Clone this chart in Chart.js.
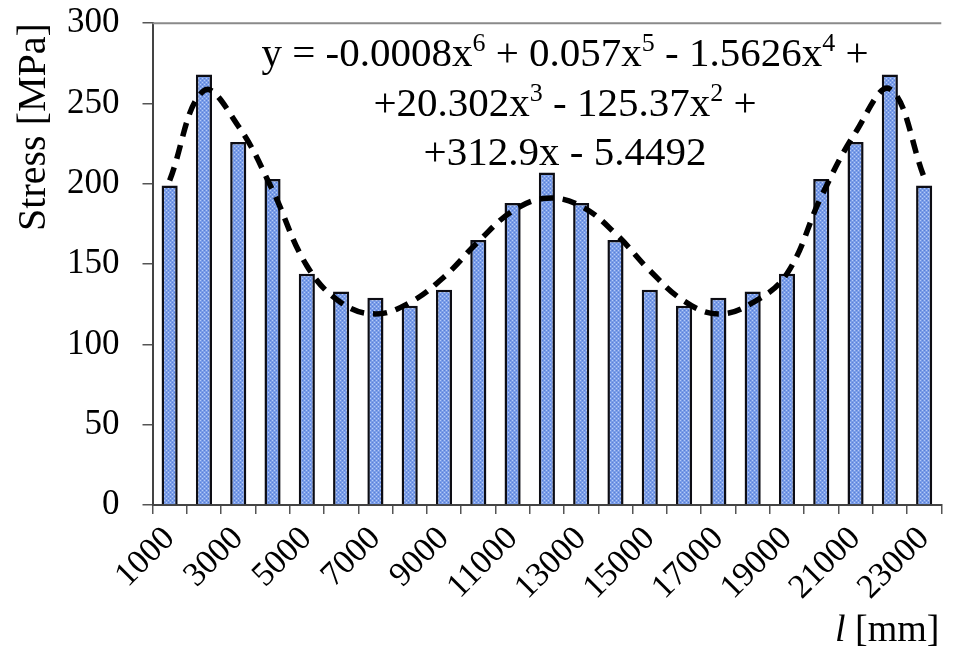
<!DOCTYPE html>
<html>
<head>
<meta charset="utf-8">
<script src="https://cdn.jsdelivr.net/npm/chart.js@4.4.1/dist/chart.umd.min.js"></script>
<style>
  html, body { margin: 0; padding: 0; background: #ffffff; overflow: hidden; }
  canvas { display: block; }
</style>
</head>
<body>
<canvas id="stressChart" width="958" height="651"></canvas>
<script>
// Span positions along the member, mm
const lengths = ['1000','2000','3000','4000','5000','6000','7000','8000','9000','10000','11000','12000',
                 '13000','14000','15000','16000','17000','18000','19000','20000','21000','22000','23000'];
// Stress at each position, MPa
const stress = [199, 268, 226, 203, 144, 133, 129, 124, 134, 165, 188, 207,
                188, 165, 134, 124, 129, 133, 144, 203, 226, 268, 199];
// Polynomial trend line values at each position, MPa
const trend = [202, 258, 236, 196, 149, 126, 119, 126, 142, 164, 183, 191,
               186, 169, 146, 127, 119, 126, 144, 192, 232, 259, 204];
// Stress axis ticks
const yTicks = [0, 50, 100, 150, 200, 250, 300];
// Trend equation, split into runs; sup marks an exponent
const equationLines = [
  [['y = -0.0008x', false], ['6', true], [' + 0.057x', false], ['5', true], [' - 1.5626x', false], ['4', true], [' +', false]],
  [['+20.302x', false], ['3', true], [' - 125.37x', false], ['2', true], [' +', false]],
  [['+312.9x - 5.4492', false]]
];

const SERIF = '"Liberation Serif", "Times New Roman", serif';

// Dotted blue fill for the bars
function makeBarPattern() {
  const c = document.createElement('canvas');
  c.width = 4; c.height = 4;
  const g = c.getContext('2d');
  g.fillStyle = '#7a9de8';
  g.fillRect(0, 0, 4, 4);
  g.fillStyle = '#b6cbf7';
  g.fillRect(0, 0, 1, 1); g.fillRect(2, 2, 1, 1);
  g.fillStyle = '#5a80d8';
  g.fillRect(2, 0, 1, 1); g.fillRect(0, 2, 1, 1);
  return g.createPattern(c, 'repeat');
}

const decorations = {
  id: 'decorations',
  beforeDraw(chart) {
    const ctx = chart.ctx;
    ctx.save();
    ctx.fillStyle = '#ffffff';
    ctx.fillRect(0, 0, chart.width, chart.height);
    ctx.restore();
  },
  afterDraw(chart) {
    const ctx = chart.ctx;
    const area = chart.chartArea;
    ctx.save();
    // top frame line
    ctx.strokeStyle = '#8a8a8a';
    ctx.lineWidth = 2;
    ctx.beginPath();
    ctx.moveTo(area.left, area.top);
    ctx.lineTo(area.right, area.top);
    ctx.stroke();

    // y axis title
    ctx.fillStyle = '#000';
    ctx.font = '40px ' + SERIF;
    ctx.textAlign = 'center';
    ctx.textBaseline = 'alphabetic';
    ctx.translate(45, 127);
    ctx.rotate(-Math.PI / 2);
    ctx.fillText('Stress [MPa]', 0, 0);
    ctx.restore();

    // x axis title: italic l followed by unit
    ctx.save();
    ctx.fillStyle = '#000';
    ctx.textBaseline = 'alphabetic';
    ctx.textAlign = 'left';
    let x = 835;
    ctx.font = 'italic 38px ' + SERIF;
    ctx.fillText('l', x, 641);
    x += ctx.measureText('l').width;
    ctx.font = '38px ' + SERIF;
    ctx.fillText(' [mm]', x, 641);
    ctx.restore();

    // trend equation
    ctx.save();
    ctx.fillStyle = '#000';
    ctx.textBaseline = 'alphabetic';
    ctx.textAlign = 'left';
    const size = 41, supSize = 26, cx = 565;
    const baselines = [66, 116, 165];
    equationLines.forEach((runs, i) => {
      let w = 0;
      runs.forEach(([t, sup]) => {
        ctx.font = (sup ? supSize : size) + 'px ' + SERIF;
        w += ctx.measureText(t).width;
      });
      let px = cx - w / 2;
      runs.forEach(([t, sup]) => {
        ctx.font = (sup ? supSize : size) + 'px ' + SERIF;
        ctx.fillText(t, px, baselines[i] - (sup ? 15 : 0));
        px += ctx.measureText(t).width;
      });
    });
    ctx.restore();
  }
};

new Chart(document.getElementById('stressChart'), {
  type: 'bar',
  data: {
    labels: lengths,
    datasets: [
      {
        type: 'line',
        data: trend,
        borderColor: '#000',
        borderWidth: 5.5,
        borderDash: [14, 9],
        pointRadius: 0,
        tension: 0.4,
        fill: false,
        order: 0
      },
      {
        type: 'bar',
        data: stress,
        backgroundColor: makeBarPattern(),
        borderColor: '#0d0d14',
        borderWidth: 2.5,
        barPercentage: 0.47,
        categoryPercentage: 1,
        order: 1
      }
    ]
  },
  plugins: [decorations],
  options: {
    responsive: false,
    animation: false,
    devicePixelRatio: 1,
    layout: { padding: { top: 23, right: 0.5, left: 0, bottom: 0 } },
    plugins: {
      legend: { display: false },
      tooltip: { enabled: false }
    },
    scales: {
      x: {
        offset: true,
        grid: {
          offset: true,
          drawOnChartArea: false,
          drawTicks: true,
          tickLength: 9,
          color: '#555',
          lineWidth: 1.5
        },
        border: { display: true, color: '#444', width: 2 },
        ticks: {
          autoSkip: false,
          minRotation: 45,
          maxRotation: 45,
          padding: 5,
          color: '#000',
          font: { family: SERIF, size: 34 },
          callback: function (value, index) {
            return index % 2 === 0 ? lengths[index] : '';
          }
        },
        afterFit(scale) { scale.height = 146; }
      },
      y: {
        min: yTicks[0],
        max: yTicks[yTicks.length - 1],
        afterBuildTicks(scale) { scale.ticks = yTicks.map(v => ({ value: v })); },
        grid: {
          drawOnChartArea: false,
          drawTicks: true,
          tickLength: 10,
          color: '#555',
          lineWidth: 1.5
        },
        border: { display: true, color: '#444', width: 2 },
        ticks: {
          padding: 23,
          color: '#000',
          font: { family: SERIF, size: 35, lineHeight: 0.01 }
        },
        afterFit(scale) { scale.width = 152.5; }
      }
    }
  }
});
</script>
</body>
</html>
